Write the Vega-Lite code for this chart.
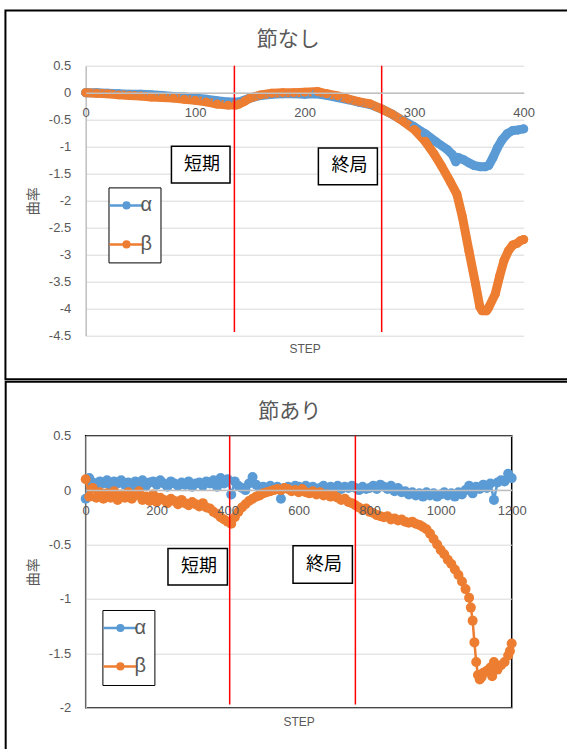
{
  "$schema": "https://vega.github.io/schema/vega-lite/v6.json",
  "background": "white",
  "padding": {"left": 3.7, "top": 8.7, "right": 0, "bottom": 0},
  "autosize": {"type": "pad"},
  "bounds": "flush",
  "spacing": 100,
  "config": {"font": "Liberation Sans", "axis": {"labelOverlap": false}},
  "resolve": {
    "scale": {"x": "independent", "y": "independent", "color": "independent"},
    "axis": {"x": "independent", "y": "independent"},
    "legend": {"color": "independent"}
  },
  "datasets": {
    "top": [
      {"series":"α","step":0,"curvature":0},{"series":"α","step":10,"curvature":0},{"series":"α","step":20,"curvature":-0.01},{"series":"α","step":30,"curvature":-0.02},{"series":"α","step":40,"curvature":-0.03},{"series":"α","step":50,"curvature":-0.03},{"series":"α","step":60,"curvature":-0.04},{"series":"α","step":70,"curvature":-0.05},{"series":"α","step":80,"curvature":-0.07},{"series":"α","step":90,"curvature":-0.08},{"series":"α","step":100,"curvature":-0.1},{"series":"α","step":110,"curvature":-0.12},{"series":"α","step":120,"curvature":-0.15},{"series":"α","step":130,"curvature":-0.17},{"series":"α","step":140,"curvature":-0.17},{"series":"α","step":150,"curvature":-0.1},{"series":"α","step":160,"curvature":-0.05},{"series":"α","step":170,"curvature":-0.03},{"series":"α","step":180,"curvature":-0.02},{"series":"α","step":190,"curvature":-0.02},{"series":"α","step":200,"curvature":-0.03},{"series":"α","step":210,"curvature":-0.02},{"series":"α","step":220,"curvature":-0.05},{"series":"α","step":230,"curvature":-0.09},{"series":"α","step":240,"curvature":-0.13},{"series":"α","step":250,"curvature":-0.18},{"series":"α","step":260,"curvature":-0.22},{"series":"α","step":270,"curvature":-0.3},{"series":"α","step":280,"curvature":-0.4},{"series":"α","step":290,"curvature":-0.52},{"series":"α","step":300,"curvature":-0.63},{"series":"α","step":310,"curvature":-0.76},{"series":"α","step":320,"curvature":-0.91},{"series":"α","step":330,"curvature":-1.05},{"series":"α","step":335,"curvature":-1.15},{"series":"α","step":338,"curvature":-1.28},{"series":"α","step":340,"curvature":-1.2},{"series":"α","step":345,"curvature":-1.24},{"series":"α","step":350,"curvature":-1.3},{"series":"α","step":355,"curvature":-1.35},{"series":"α","step":360,"curvature":-1.37},{"series":"α","step":365,"curvature":-1.37},{"series":"α","step":368,"curvature":-1.35},{"series":"α","step":372,"curvature":-1.2},{"series":"α","step":376,"curvature":-1.02},{"series":"α","step":380,"curvature":-0.88},{"series":"α","step":385,"curvature":-0.76},{"series":"α","step":390,"curvature":-0.7},{"series":"α","step":395,"curvature":-0.69},{"series":"α","step":400,"curvature":-0.67},
      {"series":"β","step":0,"curvature":0},{"series":"β","step":10,"curvature":-0.01},{"series":"β","step":20,"curvature":-0.02},{"series":"β","step":30,"curvature":-0.04},{"series":"β","step":40,"curvature":-0.05},{"series":"β","step":50,"curvature":-0.06},{"series":"β","step":60,"curvature":-0.08},{"series":"β","step":70,"curvature":-0.09},{"series":"β","step":80,"curvature":-0.1},{"series":"β","step":90,"curvature":-0.12},{"series":"β","step":100,"curvature":-0.14},{"series":"β","step":110,"curvature":-0.17},{"series":"β","step":120,"curvature":-0.21},{"series":"β","step":130,"curvature":-0.23},{"series":"β","step":137,"curvature":-0.23},{"series":"β","step":140,"curvature":-0.21},{"series":"β","step":145,"curvature":-0.16},{"series":"β","step":150,"curvature":-0.1},{"series":"β","step":160,"curvature":-0.04},{"series":"β","step":170,"curvature":-0.01},{"series":"β","step":180,"curvature":0},{"series":"β","step":190,"curvature":0},{"series":"β","step":200,"curvature":0.01},{"series":"β","step":212,"curvature":0.02},{"series":"β","step":220,"curvature":-0.02},{"series":"β","step":230,"curvature":-0.06},{"series":"β","step":240,"curvature":-0.12},{"series":"β","step":250,"curvature":-0.17},{"series":"β","step":260,"curvature":-0.21},{"series":"β","step":270,"curvature":-0.3},{"series":"β","step":280,"curvature":-0.4},{"series":"β","step":290,"curvature":-0.53},{"series":"β","step":300,"curvature":-0.68},{"series":"β","step":310,"curvature":-0.9},{"series":"β","step":318,"curvature":-1.13},{"series":"β","step":325,"curvature":-1.36},{"series":"β","step":333,"curvature":-1.65},{"series":"β","step":339,"curvature":-1.88},{"series":"β","step":344,"curvature":-2.3},{"series":"β","step":350,"curvature":-2.93},{"series":"β","step":356,"curvature":-3.54},{"series":"β","step":360,"curvature":-3.97},{"series":"β","step":362,"curvature":-4.04},{"series":"β","step":366,"curvature":-4.04},{"series":"β","step":368,"curvature":-3.98},{"series":"β","step":374,"curvature":-3.73},{"series":"β","step":378,"curvature":-3.4},{"series":"β","step":382,"curvature":-3.11},{"series":"β","step":386,"curvature":-2.93},{"series":"β","step":390,"curvature":-2.82},{"series":"β","step":394,"curvature":-2.79},{"series":"β","step":397,"curvature":-2.74},{"series":"β","step":400,"curvature":-2.72}
    ],
    "bottom": [
      {"series":"α","step":0,"curvature":-0.08},{"series":"α","step":10,"curvature":0.11},{"series":"α","step":20,"curvature":0.07},{"series":"α","step":30,"curvature":0.05},{"series":"α","step":40,"curvature":0.08},{"series":"α","step":50,"curvature":0.06},{"series":"α","step":60,"curvature":0.09},{"series":"α","step":70,"curvature":0.04},{"series":"α","step":80,"curvature":0.08},{"series":"α","step":90,"curvature":0.06},{"series":"α","step":100,"curvature":0.09},{"series":"α","step":110,"curvature":0.05},{"series":"α","step":120,"curvature":0.07},{"series":"α","step":130,"curvature":0.03},{"series":"α","step":140,"curvature":0.08},{"series":"α","step":150,"curvature":0.06},{"series":"α","step":160,"curvature":0.09},{"series":"α","step":170,"curvature":0.04},{"series":"α","step":180,"curvature":0.07},{"series":"α","step":190,"curvature":0.08},{"series":"α","step":200,"curvature":0.05},{"series":"α","step":210,"curvature":0.09},{"series":"α","step":220,"curvature":0.06},{"series":"α","step":230,"curvature":0.03},{"series":"α","step":240,"curvature":0.08},{"series":"α","step":250,"curvature":0.06},{"series":"α","step":260,"curvature":0.04},{"series":"α","step":270,"curvature":0.07},{"series":"α","step":280,"curvature":0.05},{"series":"α","step":290,"curvature":0.08},{"series":"α","step":300,"curvature":0.03},{"series":"α","step":310,"curvature":0.06},{"series":"α","step":320,"curvature":0.07},{"series":"α","step":330,"curvature":0.04},{"series":"α","step":340,"curvature":0.08},{"series":"α","step":350,"curvature":0.06},{"series":"α","step":360,"curvature":0.09},{"series":"α","step":370,"curvature":0.03},{"series":"α","step":380,"curvature":0.11},{"series":"α","step":390,"curvature":0.06},{"series":"α","step":400,"curvature":0.1},{"series":"α","step":410,"curvature":-0.04},{"series":"α","step":420,"curvature":0.08},{"series":"α","step":430,"curvature":0.04},{"series":"α","step":440,"curvature":0.02},{"series":"α","step":450,"curvature":0},{"series":"α","step":460,"curvature":0.06},{"series":"α","step":470,"curvature":0.12},{"series":"α","step":480,"curvature":0.05},{"series":"α","step":490,"curvature":0.02},{"series":"α","step":500,"curvature":0.03},{"series":"α","step":510,"curvature":0.01},{"series":"α","step":520,"curvature":0.04},{"series":"α","step":530,"curvature":0.02},{"series":"α","step":540,"curvature":0.03},{"series":"α","step":550,"curvature":-0.08},{"series":"α","step":560,"curvature":0.02},{"series":"α","step":570,"curvature":0.03},{"series":"α","step":580,"curvature":0.01},{"series":"α","step":590,"curvature":0.04},{"series":"α","step":600,"curvature":0.03},{"series":"α","step":610,"curvature":0.01},{"series":"α","step":620,"curvature":0.04},{"series":"α","step":630,"curvature":0.02},{"series":"α","step":640,"curvature":0.03},{"series":"α","step":650,"curvature":0},{"series":"α","step":660,"curvature":0.02},{"series":"α","step":670,"curvature":0.04},{"series":"α","step":680,"curvature":0.01},{"series":"α","step":690,"curvature":0.03},{"series":"α","step":700,"curvature":0.02},{"series":"α","step":710,"curvature":0.04},{"series":"α","step":720,"curvature":0.01},{"series":"α","step":730,"curvature":0.03},{"series":"α","step":740,"curvature":0.02},{"series":"α","step":750,"curvature":0.04},{"series":"α","step":760,"curvature":0.02},{"series":"α","step":770,"curvature":0},{"series":"α","step":780,"curvature":0.03},{"series":"α","step":790,"curvature":0.01},{"series":"α","step":800,"curvature":0.02},{"series":"α","step":810,"curvature":0.04},{"series":"α","step":820,"curvature":0.01},{"series":"α","step":830,"curvature":0.05},{"series":"α","step":840,"curvature":0.03},{"series":"α","step":850,"curvature":0.01},{"series":"α","step":860,"curvature":0.04},{"series":"α","step":870,"curvature":-0.01},{"series":"α","step":880,"curvature":0.02},{"series":"α","step":890,"curvature":-0.02},{"series":"α","step":900,"curvature":-0.01},{"series":"α","step":910,"curvature":-0.04},{"series":"α","step":920,"curvature":-0.02},{"series":"α","step":930,"curvature":-0.05},{"series":"α","step":940,"curvature":-0.03},{"series":"α","step":950,"curvature":-0.06},{"series":"α","step":960,"curvature":-0.02},{"series":"α","step":970,"curvature":-0.05},{"series":"α","step":980,"curvature":-0.03},{"series":"α","step":990,"curvature":-0.06},{"series":"α","step":1000,"curvature":-0.04},{"series":"α","step":1010,"curvature":-0.02},{"series":"α","step":1020,"curvature":-0.05},{"series":"α","step":1030,"curvature":-0.03},{"series":"α","step":1040,"curvature":-0.06},{"series":"α","step":1050,"curvature":-0.02},{"series":"α","step":1060,"curvature":-0.04},{"series":"α","step":1070,"curvature":0},{"series":"α","step":1080,"curvature":0.04},{"series":"α","step":1090,"curvature":-0.03},{"series":"α","step":1100,"curvature":0.03},{"series":"α","step":1110,"curvature":0.01},{"series":"α","step":1120,"curvature":0.05},{"series":"α","step":1130,"curvature":0.02},{"series":"α","step":1140,"curvature":0.06},{"series":"α","step":1150,"curvature":-0.09},{"series":"α","step":1160,"curvature":0.07},{"series":"α","step":1170,"curvature":0.09},{"series":"α","step":1180,"curvature":0.08},{"series":"α","step":1190,"curvature":0.15},{"series":"α","step":1200,"curvature":0.11},
      {"series":"β","step":0,"curvature":0.1},{"series":"β","step":10,"curvature":-0.06},{"series":"β","step":20,"curvature":0.02},{"series":"β","step":30,"curvature":-0.07},{"series":"β","step":40,"curvature":-0.02},{"series":"β","step":50,"curvature":-0.08},{"series":"β","step":60,"curvature":-0.03},{"series":"β","step":70,"curvature":-0.07},{"series":"β","step":80,"curvature":-0.01},{"series":"β","step":90,"curvature":-0.09},{"series":"β","step":100,"curvature":-0.04},{"series":"β","step":110,"curvature":-0.07},{"series":"β","step":120,"curvature":-0.02},{"series":"β","step":130,"curvature":-0.08},{"series":"β","step":140,"curvature":-0.05},{"series":"β","step":150,"curvature":-0.01},{"series":"β","step":160,"curvature":-0.09},{"series":"β","step":170,"curvature":-0.06},{"series":"β","step":180,"curvature":-0.1},{"series":"β","step":190,"curvature":-0.04},{"series":"β","step":200,"curvature":-0.11},{"series":"β","step":210,"curvature":-0.07},{"series":"β","step":220,"curvature":-0.09},{"series":"β","step":230,"curvature":-0.12},{"series":"β","step":240,"curvature":-0.08},{"series":"β","step":250,"curvature":-0.1},{"series":"β","step":260,"curvature":-0.13},{"series":"β","step":270,"curvature":-0.09},{"series":"β","step":280,"curvature":-0.12},{"series":"β","step":290,"curvature":-0.14},{"series":"β","step":300,"curvature":-0.11},{"series":"β","step":310,"curvature":-0.13},{"series":"β","step":320,"curvature":-0.15},{"series":"β","step":330,"curvature":-0.12},{"series":"β","step":340,"curvature":-0.16},{"series":"β","step":350,"curvature":-0.17},{"series":"β","step":360,"curvature":-0.2},{"series":"β","step":370,"curvature":-0.22},{"series":"β","step":380,"curvature":-0.25},{"series":"β","step":390,"curvature":-0.27},{"series":"β","step":400,"curvature":-0.29},{"series":"β","step":410,"curvature":-0.31},{"series":"β","step":420,"curvature":-0.25},{"series":"β","step":430,"curvature":-0.2},{"series":"β","step":440,"curvature":-0.16},{"series":"β","step":450,"curvature":-0.13},{"series":"β","step":460,"curvature":-0.1},{"series":"β","step":470,"curvature":-0.08},{"series":"β","step":480,"curvature":-0.06},{"series":"β","step":490,"curvature":-0.05},{"series":"β","step":500,"curvature":-0.03},{"series":"β","step":510,"curvature":-0.02},{"series":"β","step":520,"curvature":-0.01},{"series":"β","step":530,"curvature":0},{"series":"β","step":540,"curvature":0.01},{"series":"β","step":550,"curvature":0},{"series":"β","step":560,"curvature":0.02},{"series":"β","step":570,"curvature":0.01},{"series":"β","step":580,"curvature":-0.01},{"series":"β","step":590,"curvature":0},{"series":"β","step":600,"curvature":-0.02},{"series":"β","step":610,"curvature":0.01},{"series":"β","step":620,"curvature":-0.02},{"series":"β","step":630,"curvature":-0.03},{"series":"β","step":640,"curvature":-0.01},{"series":"β","step":650,"curvature":-0.04},{"series":"β","step":660,"curvature":-0.02},{"series":"β","step":670,"curvature":-0.05},{"series":"β","step":680,"curvature":-0.04},{"series":"β","step":690,"curvature":-0.06},{"series":"β","step":700,"curvature":-0.05},{"series":"β","step":710,"curvature":-0.07},{"series":"β","step":720,"curvature":-0.09},{"series":"β","step":730,"curvature":-0.08},{"series":"β","step":740,"curvature":-0.11},{"series":"β","step":750,"curvature":-0.12},{"series":"β","step":760,"curvature":-0.14},{"series":"β","step":770,"curvature":-0.16},{"series":"β","step":780,"curvature":-0.18},{"series":"β","step":790,"curvature":-0.17},{"series":"β","step":800,"curvature":-0.2},{"series":"β","step":810,"curvature":-0.21},{"series":"β","step":820,"curvature":-0.23},{"series":"β","step":830,"curvature":-0.24},{"series":"β","step":840,"curvature":-0.25},{"series":"β","step":850,"curvature":-0.24},{"series":"β","step":860,"curvature":-0.27},{"series":"β","step":870,"curvature":-0.26},{"series":"β","step":880,"curvature":-0.28},{"series":"β","step":890,"curvature":-0.27},{"series":"β","step":900,"curvature":-0.29},{"series":"β","step":910,"curvature":-0.3},{"series":"β","step":920,"curvature":-0.29},{"series":"β","step":930,"curvature":-0.31},{"series":"β","step":940,"curvature":-0.32},{"series":"β","step":950,"curvature":-0.34},{"series":"β","step":960,"curvature":-0.36},{"series":"β","step":970,"curvature":-0.4},{"series":"β","step":980,"curvature":-0.45},{"series":"β","step":990,"curvature":-0.5},{"series":"β","step":1000,"curvature":-0.55},{"series":"β","step":1010,"curvature":-0.59},{"series":"β","step":1020,"curvature":-0.64},{"series":"β","step":1030,"curvature":-0.68},{"series":"β","step":1040,"curvature":-0.73},{"series":"β","step":1050,"curvature":-0.78},{"series":"β","step":1060,"curvature":-0.84},{"series":"β","step":1070,"curvature":-0.91},{"series":"β","step":1080,"curvature":-0.99},{"series":"β","step":1085,"curvature":-1.08},{"series":"β","step":1090,"curvature":-1.2},{"series":"β","step":1095,"curvature":-1.4},{"series":"β","step":1100,"curvature":-1.58},{"series":"β","step":1105,"curvature":-1.7},{"series":"β","step":1110,"curvature":-1.74},{"series":"β","step":1115,"curvature":-1.72},{"series":"β","step":1120,"curvature":-1.68},{"series":"β","step":1130,"curvature":-1.66},{"series":"β","step":1140,"curvature":-1.63},{"series":"β","step":1145,"curvature":-1.71},{"series":"β","step":1150,"curvature":-1.58},{"series":"β","step":1160,"curvature":-1.65},{"series":"β","step":1170,"curvature":-1.61},{"series":"β","step":1180,"curvature":-1.58},{"series":"β","step":1190,"curvature":-1.52},{"series":"β","step":1195,"curvature":-1.48},{"series":"β","step":1200,"curvature":-1.41}
    ],
    "annTop": [
      {"label":"短期","left":78.3,"right":131.8,"upper":-0.994,"lower":-1.672,"tx":106.2,"ty":-1.34},
      {"label":"終局","left":212.5,"right":266.4,"upper":-1.024,"lower":-1.704,"tx":240.9,"ty":-1.352}
    ],
    "annBottom": [
      {"label":"短期","left":231.8,"right":399.2,"upper":-0.536,"lower":-0.872,"tx":319.2,"ty":-0.711},
      {"label":"終局","left":584,"right":751.3,"upper":-0.511,"lower":-0.857,"tx":671,"ty":-0.688}
    ]
  },
  "vconcat": [
    {
      "width": 438,
      "height": 270,
      "view": {"stroke": null},
      "title": {"text": "節なし", "frame": "group", "anchor": "middle", "dx": -16.5, "offset": -52, "baseline": "middle", "fontSize": 21, "font": "Noto Sans CJK JP", "fontWeight": "normal", "color": "#595959"},
      "layer": [
        {
          "data": {"values": [{}]},
          "mark": {"type": "rect", "filled": false, "stroke": "#000000", "strokeWidth": 2},
          "encoding": {
            "x": {"datum": -73.3, "type": "quantitative", "scale": {"domain": [0, 400], "nice": false, "zero": false}},
            "x2": {"datum": 488},
            "y": {"datum": 1.524, "type": "quantitative", "scale": {"domain": [-4.5, 0.5], "nice": false, "zero": false}},
            "y2": {"datum": -5.306}
          }
        },
        {
          "data": {"name": "top"},
          "encoding": {
            "x": {"field": "step", "type": "quantitative", "scale": {"domain": [0, 400], "nice": false, "zero": false},
              "axis": {"values": [0, 100, 200, 300, 400], "tickCount": 20, "labelExpr": "toString(datum.value)", "orient": "bottom", "offset": -243, "zindex": 1, "grid": false, "ticks": false, "domainColor": "#bfbfbf", "domainWidth": 1.5, "labelPadding": 14, "labelFontSize": 13, "labelColor": "#595959", "labelFont": "Liberation Sans", "labelFlush": false, "labelOverlap": false, "title": "STEP", "titleY": 256.3, "titleBaseline": "middle", "titleFontSize": 12, "titleFont": "Liberation Sans", "titleFontWeight": "normal", "titleColor": "#595959"}},
            "y": {"field": "curvature", "type": "quantitative", "scale": {"domain": [-4.5, 0.5], "nice": false, "zero": false},
              "axis": {"values": [0.5, 0, -0.5, -1, -1.5, -2, -2.5, -3, -3.5, -4, -4.5], "tickCount": 20, "labelExpr": "toString(datum.value)", "labelOverlap": false, "grid": true, "gridColor": "#d9d9d9", "gridWidth": 1, "ticks": false, "domainColor": "#bfbfbf", "domainWidth": 1.5, "labelPadding": 15, "labelFontSize": 13, "labelColor": "#595959", "labelFont": "Liberation Sans", "title": "曲率", "titleFont": "Noto Sans CJK JP", "titleFontSize": 14, "titleFontWeight": "normal", "titleColor": "#595959", "titlePadding": 8}},
            "color": {"field": "series", "type": "nominal", "scale": {"domain": ["α", "β"], "range": ["#5B9BD5", "#ED7D31"]},
              "legend": {"orient": "none", "legendX": 22.8, "legendY": 121.7, "title": null, "direction": "vertical", "symbolType": "M-2,0H2M0.33,0A0.33,0.33,0,1,1,-0.33,0A0.33,0.33,0,1,1,0.33,0", "symbolSize": 289, "symbolStrokeWidth": 2.5, "labelFontSize": 20, "labelFont": "Liberation Sans", "labelColor": "#595959", "labelOffset": 4, "rowPadding": 19, "padding": 8, "strokeColor": "#000000", "fillColor": "white", "cornerRadius": 0,
                "encode": {"symbols": {"update": {"fill": {"signal": "datum.value === 'α' ? '#5B9BD5' : '#ED7D31'"}, "fillOpacity": {"value": 1}, "opacity": {"value": 1}}}}}}
          },
          "layer": [
            {"mark": {"type": "line", "strokeWidth": 9, "strokeCap": "round", "strokeJoin": "round"}},
            {"mark": {"type": "point", "filled": true, "opacity": 1, "size": 80}}
          ]
        },
        {
          "data": {"values": [{"step": 135.8}, {"step": 270.3}]},
          "mark": {"type": "rule", "color": "#FF0000", "strokeWidth": 1.5},
          "encoding": {"x": {"field": "step", "type": "quantitative"}, "y": {"datum": 0.5, "type": "quantitative"}, "y2": {"datum": -4.43}}
        },
        {
          "data": {"name": "annTop"},
          "mark": {"type": "rect", "fill": "white", "stroke": "#000000", "strokeWidth": 1.5},
          "encoding": {"x": {"field": "left", "type": "quantitative"}, "x2": {"field": "right"}, "y": {"field": "upper", "type": "quantitative"}, "y2": {"field": "lower"}}
        },
        {
          "data": {"name": "annTop"},
          "mark": {"type": "text", "font": "Noto Sans CJK JP", "fontSize": 18, "color": "#000000", "align": "center", "baseline": "middle"},
          "encoding": {"x": {"field": "tx", "type": "quantitative"}, "y": {"field": "ty", "type": "quantitative"}, "text": {"field": "label"}}
        }
      ]
    },
    {
      "width": 426,
      "height": 272,
      "view": {"stroke": "#000000", "strokeWidth": 1.5},
      "title": {"text": "節あり", "frame": "group", "anchor": "middle", "dx": -9, "offset": -52, "baseline": "middle", "fontSize": 21, "font": "Noto Sans CJK JP", "fontWeight": "normal", "color": "#595959"},
      "layer": [
        {
          "data": {"values": [{}]},
          "mark": {"type": "rect", "filled": false, "stroke": "#000000", "strokeWidth": 2},
          "encoding": {
            "x": {"datum": -225.4, "type": "quantitative", "scale": {"domain": [0, 1200], "nice": false, "zero": false}},
            "x2": {"datum": 1507},
            "y": {"datum": 0.996, "type": "quantitative", "scale": {"domain": [-2, 0.5], "nice": false, "zero": false}},
            "y2": {"datum": -2.579}
          }
        },
        {
          "data": {"name": "bottom"},
          "encoding": {
            "x": {"field": "step", "type": "quantitative", "scale": {"domain": [0, 1200], "nice": false, "zero": false},
              "axis": {"values": [0, 200, 400, 600, 800, 1000, 1200], "tickCount": 20, "labelExpr": "toString(datum.value)", "orient": "bottom", "offset": -217.6, "zindex": 1, "grid": false, "ticks": false, "domainColor": "#bfbfbf", "domainWidth": 1.5, "labelPadding": 14, "labelFontSize": 13, "labelColor": "#595959", "labelFont": "Liberation Sans", "labelFlush": false, "labelOverlap": false, "title": "STEP", "titleY": 231.3, "titleBaseline": "middle", "titleFontSize": 12, "titleFont": "Liberation Sans", "titleFontWeight": "normal", "titleColor": "#595959"}},
            "y": {"field": "curvature", "type": "quantitative", "scale": {"domain": [-2, 0.5], "nice": false, "zero": false},
              "axis": {"values": [0.5, 0, -0.5, -1, -1.5, -2], "tickCount": 20, "labelExpr": "toString(datum.value)", "labelOverlap": false, "grid": true, "gridColor": "#d9d9d9", "gridWidth": 1, "ticks": false, "domainColor": "#bfbfbf", "domainWidth": 1.5, "labelPadding": 15, "labelFontSize": 13, "labelColor": "#595959", "labelFont": "Liberation Sans", "title": "曲率", "titleFont": "Noto Sans CJK JP", "titleFontSize": 14, "titleFontWeight": "normal", "titleColor": "#595959", "titlePadding": 8}},
            "color": {"field": "series", "type": "nominal", "scale": {"domain": ["α", "β"], "range": ["#5B9BD5", "#ED7D31"]},
              "legend": {"orient": "none", "legendX": 16.7, "legendY": 174.3, "title": null, "direction": "vertical", "symbolType": "M-2,0H2M0.33,0A0.33,0.33,0,1,1,-0.33,0A0.33,0.33,0,1,1,0.33,0", "symbolSize": 289, "symbolStrokeWidth": 2.5, "labelFontSize": 20, "labelFont": "Liberation Sans", "labelColor": "#595959", "labelOffset": 4, "rowPadding": 18.4, "padding": 8, "strokeColor": "#000000", "fillColor": "white", "cornerRadius": 0,
                "encode": {"symbols": {"update": {"fill": {"signal": "datum.value === 'α' ? '#5B9BD5' : '#ED7D31'"}, "fillOpacity": {"value": 1}, "opacity": {"value": 1}}}}}}
          },
          "layer": [
            {"mark": {"type": "line", "strokeWidth": 2.5, "strokeJoin": "round"}},
            {"mark": {"type": "point", "filled": true, "opacity": 1, "size": 100}}
          ]
        },
        {
          "data": {"values": [{"step": 405.6}, {"step": 759.7}]},
          "mark": {"type": "rule", "color": "#FF0000", "strokeWidth": 1.5},
          "encoding": {"x": {"field": "step", "type": "quantitative"}, "y": {"datum": 0.5, "type": "quantitative"}, "y2": {"datum": -1.97}}
        },
        {
          "data": {"name": "annBottom"},
          "mark": {"type": "rect", "fill": "white", "stroke": "#000000", "strokeWidth": 1.5},
          "encoding": {"x": {"field": "left", "type": "quantitative"}, "x2": {"field": "right"}, "y": {"field": "upper", "type": "quantitative"}, "y2": {"field": "lower"}}
        },
        {
          "data": {"name": "annBottom"},
          "mark": {"type": "text", "font": "Noto Sans CJK JP", "fontSize": 18, "color": "#000000", "align": "center", "baseline": "middle"},
          "encoding": {"x": {"field": "tx", "type": "quantitative"}, "y": {"field": "ty", "type": "quantitative"}, "text": {"field": "label"}}
        }
      ]
    }
  ]
}
